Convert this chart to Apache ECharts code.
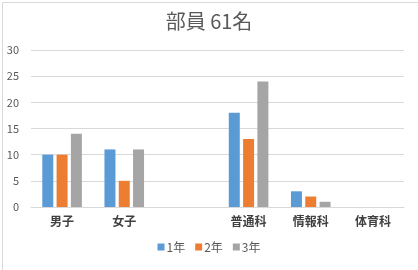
<!DOCTYPE html>
<html><head><meta charset="utf-8">
<script src="https://cdn.jsdelivr.net/npm/echarts@6/dist/echarts.min.js"></script>
<style>html,body{margin:0;padding:0;background:#fff}#c{width:418px;height:270px}</style>
</head><body><div id="c"></div>
<script>
const categories = ['男子', '女子', '', '普通科', '情報科', '体育科'];
const year1 = [10, 11, null, 18, 3, 0];
const year2 = [10, 5, null, 13, 2, 0];
const year3 = [14, 11, null, 24, 1, 0];
const seriesNames = ['1年', '2年', '3年'];
const yTicks = [0, 5, 10, 15, 20, 25, 30];

const font = '"Noto Sans CJK JP", "Noto Sans", sans-serif';
const chart = echarts.init(document.getElementById('c'));
chart.setOption({
  animation: false,
  color: ['#5B9BD5', '#ED7D31', '#A5A5A5'],
  title: {
    text: '部員 61名', left: 'center', top: 6,
    textStyle: { fontFamily: font, fontSize: 20, fontWeight: 'normal', color: '#595959' }
  },
  graphic: [{
    type: 'rect', left: 0, top: 0,
    shape: { x: 0.5, y: 0.5, width: 417, height: 269 },
    style: { fill: 'none', stroke: '#d9d9d9', lineWidth: 1 }, silent: true
  }],
  legend: {
    bottom: 12, left: 'center', itemWidth: 7, itemHeight: 7, itemGap: 10,
    icon: 'rect',
    textStyle: { fontFamily: font, fontSize: 12, color: '#595959', padding: [0, 0, 0, -3] },
    data: seriesNames
  },
  grid: { left: 31, right: 14, top: 50, bottom: 63 },
  xAxis: {
    type: 'category', data: categories,
    axisLine: { lineStyle: { color: '#d9d9d9' } },
    axisTick: { show: false },
    axisLabel: { fontFamily: font, fontSize: 12, fontWeight: 'bold', color: '#404040', margin: 8 }
  },
  yAxis: {
    type: 'value', min: yTicks[0], max: yTicks[yTicks.length - 1], interval: 5,
    axisLine: { show: false }, axisTick: { show: false },
    splitLine: { lineStyle: { color: '#d9d9d9' } },
    axisLabel: { fontFamily: font, fontSize: 11, color: '#595959', margin: 12 }
  },
  series: [
    { name: seriesNames[0], type: 'bar', data: year1, barWidth: 11, barGap: '30%' },
    { name: seriesNames[1], type: 'bar', data: year2, barWidth: 11, barGap: '30%' },
    { name: seriesNames[2], type: 'bar', data: year3, barWidth: 11, barGap: '30%' }
  ]
});
</script></body></html>
